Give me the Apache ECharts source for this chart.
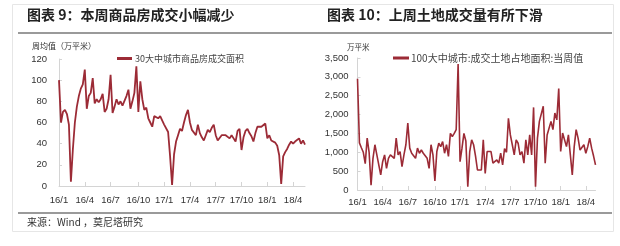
<!DOCTYPE html>
<html><head><meta charset="utf-8">
<script src="https://cdn.jsdelivr.net/npm/echarts@6/dist/echarts.min.js"></script>
<style>html,body{margin:0;padding:0;background:#fff;}#c{width:620px;height:246px;}</style>
</head><body><div id="c"></div>
<script>
// 30大中城市商品房成交面积 (周均值, 万平米), weekly from 2016-01
const houseValues = [100,60,70,72,68,58,4,35,60,75,85,92,96,110,73,85,88,102,78,82,
79,82,87,70,73,82,105,69,75,82,77,80,76,75,85,91,73,80,88,113,
70,99,82,72,74,64,60,56,66,67,64,66,66,58,57,51,28,1,30,42,
48,54,52,60,67,72,60,53,52,48,58,50,46,43,48,53,51,55,58,48,
43,43,48,47,48,47,45,48,45,42,52,54,34,46,52,54,50,47,42,50,
56,56,56,56,59,45,48,43,42,41,38,29,2,28,32,35,39,42,40,42,
43,45,40,43,39];
// 100大中城市:成交土地占地面积:当周值 (万平米), weekly from 2016-01
const landValues = [2950,1250,1120,1000,700,1375,1000,130,840,1200,930,975,400,750,930,575,840,930,890,840,
1375,930,1020,620,930,1200,1775,1110,975,1020,840,1110,975,1060,975,1020,840,575,1200,930,
240,1020,1240,1150,1285,975,1200,890,1500,1420,1500,1600,3340,750,1110,1500,1300,90,1020,1330,
1200,900,530,560,530,1330,440,1020,1060,1020,710,750,800,710,975,665,1100,1000,1900,1460,
1200,930,1330,1240,930,1020,710,1330,930,1460,930,2190,90,1375,1820,1860,2220,710,1460,1420,
1820,1600,2040,1860,2690,1020,1510,1460,1150,1460,930,400,1150,1600,1375,1060,1020,1200,975,1150,
1375,1110,900,665];
const houseYTicks = {min:0, max:120, step:20};
const landYTicks = {min:0, max:3500, step:500};
const quarterMonths = [1,4,7,10];

function weeks(n){
  const out=[]; const d0=Date.UTC(2016,0,1);
  for(let i=0;i<n;i++){
    const d=new Date(d0+i*7*86400000);
    out.push(d.getUTCFullYear()+'-'+String(d.getUTCMonth()+1).padStart(2,'0')+'-'+String(d.getUTCDate()).padStart(2,'0'));
  }
  return out;
}
const houseWeeks = weeks(houseValues.length);
const landWeeks = weeks(landValues.length);
function quarterStart(cats){
  return function(idx){
    const m=+cats[idx].slice(5,7);
    const pm = idx>0 ? +cats[idx-1].slice(5,7) : 0;
    return quarterMonths.indexOf(m)>=0 && m!==pm;
  };
}
function fmt(v){ return v.slice(2,4)+'/'+(+v.slice(5,7)); }

const RED='#9c2b36', AX='#d4d4d4', TXT='#333';
const cjk='"Noto Sans CJK SC", "Liberation Sans", sans-serif';
const lat='"Liberation Sans", Arial, sans-serif';

function xAx(grid, cats, margin){
  return {type:'category', gridIndex:grid, data:cats, boundaryGap:false,
    axisLine:{lineStyle:{color:AX,width:1}},
    axisTick:{show:true, inside:true, length:4, interval:quarterStart(cats), lineStyle:{color:AX}},
    axisLabel:{interval:quarterStart(cats), formatter:fmt, fontSize:9.5, color:TXT, fontFamily:lat, margin:margin}};
}
function yAx(grid, t, margin, f){
  return {type:'value', gridIndex:grid, min:t.min, max:t.max, interval:t.step,
    axisLine:{show:true, lineStyle:{color:AX}},
    axisTick:{show:true, inside:true, length:3, lineStyle:{color:AX}},
    splitLine:{show:false},
    axisLabel:{fontSize:9.5, color:TXT, fontFamily:lat, margin:margin, formatter:f}};
}

const chart = echarts.init(document.getElementById('c'), null, {renderer:'canvas'});
chart.setOption({
  animation:false,
  backgroundColor:'#fff',
  grid:[
    {left:59, top:59, width:246, height:127},
    {left:357.5, top:58, width:238, height:132}
  ],
  xAxis:[xAx(0, houseWeeks, 9), xAx(1, landWeeks, 7)],
  yAxis:[yAx(0, houseYTicks, 12), yAx(1, landYTicks, 9, v=>v.toLocaleString('en-US'))],
  legend:[
    {data:['30大中城市商品房成交面积'], left:112, top:49, icon:'rect', itemWidth:15, itemHeight:3, itemGap:4,
     textStyle:{fontSize:9, color:'#444', fontFamily:cjk, padding:[0,0,0,-2]}},
    {data:['100大中城市:成交土地占地面积:当周值'], left:388, top:48, icon:'rect', itemWidth:16, itemHeight:3,
     textStyle:{fontSize:10, color:'#444', fontFamily:cjk, padding:[0,0,0,-3]}}
  ],
  series:[
    {name:'30大中城市商品房成交面积', type:'line', xAxisIndex:0, yAxisIndex:0, data:houseValues,
     showSymbol:false, lineStyle:{color:RED, width:1.8}, itemStyle:{color:RED}},
    {name:'100大中城市:成交土地占地面积:当周值', type:'line', xAxisIndex:1, yAxisIndex:1, data:landValues,
     showSymbol:false, lineStyle:{color:RED, width:1.6}, itemStyle:{color:RED}}
  ],
  graphic:[
    {type:'rect', shape:{x:12.5, y:4.5, width:601, height:227}, style:{fill:'none', stroke:'#e6e6e6', lineWidth:1}, silent:true},
    {type:'text', left:27, top:8, style:{text:'图表 9：本周商品房成交小幅减少', fontSize:14, fontWeight:'bold', fill:'#222', fontFamily:cjk}},
    {type:'text', left:327, top:8, style:{text:'图表 10：上周土地成交量有所下滑', fontSize:14, fontWeight:'bold', fill:'#222', fontFamily:cjk}},
    {type:'line', shape:{x1:18, y1:33, x2:612, y2:33}, style:{stroke:'#9a9a9a', lineWidth:2}},
    {type:'line', shape:{x1:18, y1:213, x2:612, y2:213}, style:{stroke:'#9a9a9a', lineWidth:2}},
    {type:'text', left:27, top:217, style:{text:'来源：Wind ，莫尼塔研究', fontSize:10, fill:'#333', fontFamily:cjk}},
    {type:'text', left:32, top:42, style:{text:'周均值（万平米）', fontSize:8, fill:TXT, fontFamily:cjk}},
    {type:'text', left:347, top:43, style:{text:'万平米', fontSize:7.5, fill:TXT, fontFamily:cjk}}
  ]
});
</script></body></html>
